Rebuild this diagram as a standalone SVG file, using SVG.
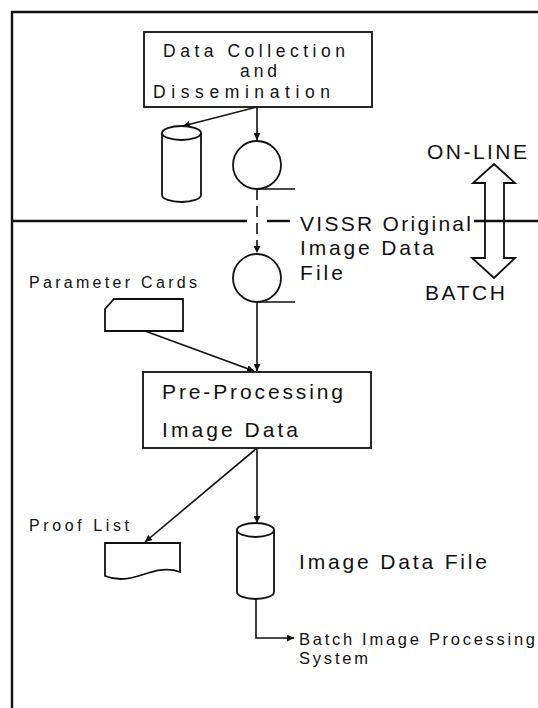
<svg xmlns="http://www.w3.org/2000/svg" width="538" height="708" viewBox="0 0 538 708">
<style>
.ln{fill:none;stroke:#111;stroke-width:1.6}
.sh{fill:#fff;stroke:#111;stroke-width:1.8}
.fr{fill:none;stroke:#111;stroke-width:2.4}
.t{font-family:"Liberation Sans",Arial,sans-serif;fill:#111;font-size:21px}
.b{font-family:"Liberation Sans",Arial,sans-serif;fill:#111;font-size:17.5px}
.s{font-family:"Liberation Sans",Arial,sans-serif;fill:#111;font-size:16px}
.m{font-family:"Liberation Sans",Arial,sans-serif;fill:#111;font-size:16.5px}
</style>
<defs>
<marker id="ah" viewBox="0 0 10 10" refX="10" refY="5" markerWidth="7" markerHeight="7" markerUnits="userSpaceOnUse" orient="auto">
<path d="M0,0 L10,5 L0,10 Z" fill="#111"/>
</marker>
</defs>
<rect width="538" height="708" fill="#fff"/>
<g id="frame">
<path class="fr" d="M12,708 V12 H538"/>
<path class="fr" d="M12,221 H247"/>
<path class="fr" d="M267,221 H290"/>
</g>
<g id="data-collection">
<rect class="sh" x="144" y="32" width="228" height="75"/>
<text class="b" x="163" y="57" textLength="182" lengthAdjust="spacing">Data Collection</text>
<text class="b" x="240" y="77" textLength="37" lengthAdjust="spacing">and</text>
<text class="b" x="153" y="98" textLength="177" lengthAdjust="spacing">Dissemination</text>
</g>
<g id="disk-online">
<path class="sh" d="M162,133 V195 A19.5,7 0 0 0 201,195 V133"/>
<ellipse class="sh" cx="181.5" cy="133" rx="19.5" ry="7"/>
</g>
<g id="tape-online">
<circle class="sh" cx="257" cy="165" r="24"/>
<path class="ln" d="M257,189 H295"/>
</g>
<g id="vissr-file">
<circle class="sh" cx="257" cy="278" r="24"/>
<path class="ln" d="M257,302 H295"/>
<text class="t" x="300" y="231" textLength="171" lengthAdjust="spacing">VISSR Original</text>
<text class="t" x="300" y="255" textLength="134" lengthAdjust="spacing">Image Data</text>
<text class="t" x="300" y="280" textLength="43" lengthAdjust="spacing">File</text>
</g>
<g id="online-batch">
<polygon class="sh" points="494,164 515,183 504,183 504,258 515,258 494,278 472,258 485,258 485,183 473,183"/>
<path class="fr" d="M474,221 H538"/>
<text class="t" x="427" y="159" textLength="100" lengthAdjust="spacing">ON-LINE</text>
<text class="t" x="425" y="300" textLength="80" lengthAdjust="spacing">BATCH</text>
</g>
<g id="parameter-cards">
<polygon class="sh" points="114,299 183,299 183,331 105,331 105,309"/>
<text class="s" x="29" y="288" textLength="168" lengthAdjust="spacing">Parameter Cards</text>
</g>
<g id="pre-processing">
<rect class="sh" x="143" y="372" width="228" height="76"/>
<text class="t" x="162" y="399" textLength="181" lengthAdjust="spacing">Pre-Processing</text>
<text class="t" x="162" y="437" textLength="136" lengthAdjust="spacing">Image Data</text>
</g>
<g id="proof-list">
<path class="sh" d="M105,543 H180 V572 C170,568 160,569 148,573 C133,578 120,582 105,576 Z"/>
<text class="s" x="29" y="531" textLength="100" lengthAdjust="spacing">Proof List</text>
</g>
<g id="image-data-file">
<path class="sh" d="M237,530 V592 A18.5,7 0 0 0 274,592 V530"/>
<ellipse class="sh" cx="255.5" cy="530" rx="18.5" ry="7"/>
<text class="t" x="299" y="569" textLength="188" lengthAdjust="spacing">Image Data File</text>
</g>
<g id="batch-system">
<text class="m" x="299" y="645" textLength="236" lengthAdjust="spacing">Batch Image Processing</text>
<text class="m" x="299" y="664" textLength="69" lengthAdjust="spacing">System</text>
</g>
<g id="connectors">
<path class="ln" d="M257,107 V140" marker-end="url(#ah)"/>
<path class="ln" d="M257,107 L183,126" marker-end="url(#ah)"/>
<path class="ln" d="M257,189 V253" stroke-dasharray="11,6" marker-end="url(#ah)"/>
<path class="ln" d="M257,302 V371" marker-end="url(#ah)"/>
<path class="ln" d="M145,331 L254,371" marker-end="url(#ah)"/>
<path class="ln" d="M257,448 V523" marker-end="url(#ah)"/>
<path class="ln" d="M257,448 L145,542" marker-end="url(#ah)"/>
<path class="ln" d="M256,599 V638 H294" marker-end="url(#ah)"/>
</g>
</svg>
